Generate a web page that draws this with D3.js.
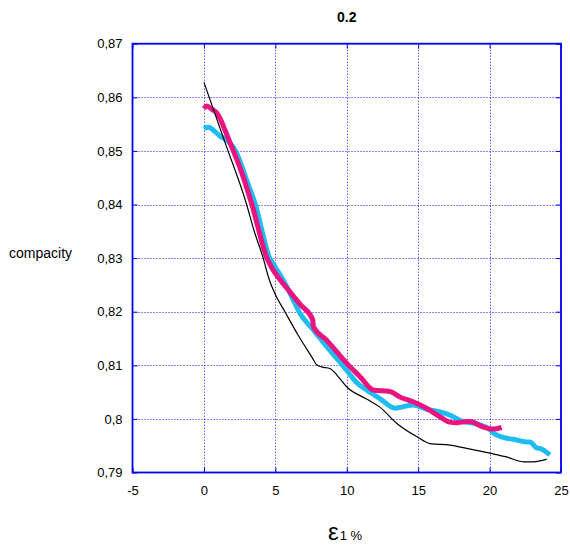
<!DOCTYPE html>
<html><head><meta charset="utf-8">
<script src="https://cdn.jsdelivr.net/npm/d3@7"></script>
<style>body{margin:0;background:#fff}svg{display:block}text{font-family:"Liberation Sans",Arial,sans-serif}</style>
</head><body><svg id="c" width="570" height="547"></svg>
<script>
const title = "0.2";
const xTicks = [-5, 0, 5, 10, 15, 20, 25];
const yTicks = [0.79, 0.80, 0.81, 0.82, 0.83, 0.84, 0.85, 0.86, 0.87];
const blackX = [0, 1.5, 2.99, 3.5, 4.15, 4.55, 5.0, 5.67, 6.6, 7.61, 7.89, 8.24, 8.82, 9.4, 9.99, 11.39, 12.32, 13.49, 14.89, 15.82, 17.22, 18.39, 20.02, 21.19, 22.36, 23.06, 24.0];
const blackY = [0.8628, 0.8514, 0.84, 0.8352, 0.83, 0.8262, 0.8232, 0.82, 0.8156, 0.8113, 0.8101, 0.8097, 0.8094, 0.8079, 0.806, 0.8037, 0.8022, 0.7992, 0.7967, 0.7954, 0.7951, 0.7945, 0.7936, 0.7929, 0.792, 0.792, 0.7925];
const cyanX = [0, 0.3, 0.77, 1.12, 1.59, 1.94, 2.17, 3.0, 3.6, 4.6, 5.0, 5.7, 6.25, 6.72, 7.66, 8.59, 9.99, 10.69, 11.39, 12.32, 13.37, 13.84, 14.65, 15.58, 16.52, 17.22, 18.15, 18.85, 20.02, 20.26, 21.19, 21.66, 22.59, 22.82, 23.29, 23.52, 24.22];
const cyanY = [0.8542, 0.8544, 0.8536, 0.8528, 0.852, 0.8511, 0.8502, 0.8445, 0.84, 0.83, 0.8283, 0.8252, 0.8222, 0.8197, 0.8166, 0.8135, 0.8091, 0.8068, 0.8054, 0.8038, 0.802, 0.8022, 0.8026, 0.8018, 0.8013, 0.8007, 0.7995, 0.7992, 0.798, 0.7974, 0.7964, 0.7962, 0.7957, 0.7957, 0.7946, 0.7945, 0.7933];
const pinkX = [0, 0.19, 0.54, 0.89, 1.12, 1.47, 1.94, 2.64, 3.36, 4.41, 4.75, 5.44, 6.02, 6.72, 7.62, 7.66, 8.59, 9.99, 10.92, 11.85, 13.02, 13.72, 14.65, 15.58, 16.52, 17.22, 17.69, 18.39, 18.62, 19.55, 20.26, 20.84];
const pinkY = [0.8579, 0.8584, 0.8578, 0.8571, 0.8561, 0.8539, 0.8508, 0.846, 0.84, 0.83, 0.8282, 0.8256, 0.8237, 0.8214, 0.8185, 0.8172, 0.8147, 0.8104, 0.8079, 0.8054, 0.8051, 0.8041, 0.8032, 0.802, 0.8004, 0.7994, 0.7993, 0.7995, 0.7995, 0.7985, 0.7981, 0.7984];

const svg = d3.select("#c");
const L = 132.5, R = 561, T = 43.7, B = 472.5;
const x = d3.scaleLinear().domain([-5, 25]).range([L, R]);
const y = d3.scaleLinear().domain([0.79, 0.87]).range([B, T]);
const gridCol = "#1010f0", frameCol = "#0000ee";
const crisp = v => Math.round(v) + 0.5;

// grid
svg.append("g").selectAll("line").data(xTicks.slice(1, -1)).join("line")
  .attr("x1", d => crisp(x(d))).attr("x2", d => crisp(x(d))).attr("y1", T).attr("y2", B)
  .attr("stroke", gridCol).attr("stroke-width", 1).attr("stroke-dasharray", "1,2");
svg.append("g").selectAll("line").data(yTicks.slice(1, -1)).join("line")
  .attr("y1", d => crisp(y(d))).attr("y2", d => crisp(y(d))).attr("x1", L).attr("x2", R)
  .attr("stroke", gridCol).attr("stroke-width", 1).attr("stroke-dasharray", "1,2");

// axes with inward ticks
const fmt = d => d3.format(".2f")(d).replace(/\.?0+$/, "").replace(".", ",");
svg.append("g").attr("transform", `translate(0,${B})`)
  .call(d3.axisBottom(x).tickValues(xTicks).tickSize(-5).tickPadding(13).tickFormat(d => String(d)));
svg.append("g").attr("transform", `translate(${L},0)`)
  .call(d3.axisLeft(y).tickValues(yTicks).tickSize(-5).tickPadding(10).tickFormat(fmt));
svg.append("g").attr("transform", `translate(${R},0)`)
  .call(d3.axisRight(y).tickValues(yTicks).tickSize(-5).tickFormat(""));
svg.append("g").attr("transform", `translate(0,${T})`)
  .call(d3.axisTop(x).tickValues(xTicks).tickSize(-5).tickFormat(""));
svg.selectAll(".domain").remove();
svg.selectAll(".tick line").attr("stroke", frameCol);
svg.selectAll(".tick text").attr("font-size", 13).attr("fill", "#000")
  .style("font-family", '"Liberation Sans",Arial,sans-serif');
svg.append("rect").attr("x", L).attr("y", T).attr("width", R - L).attr("height", B - T)
  .attr("fill", "none").attr("stroke", frameCol).attr("stroke-width", 1.8);

// lines
const line = d3.line().x(d => x(d[0])).y(d => y(d[1])).curve(d3.curveMonotoneX);
const zip = (a, b) => a.map((v, i) => [v, b[i]]);
const plot = svg.append("g");
plot.append("path").datum(zip(cyanX, cyanY)).attr("d", line).attr("fill", "none")
  .attr("stroke", "#1ebcf0").attr("stroke-width", 5).attr("stroke-linejoin", "round");
plot.append("path").datum(zip(pinkX, pinkY)).attr("d", line).attr("fill", "none")
  .attr("stroke", "#ea1480").attr("stroke-width", 5).attr("stroke-linejoin", "round");
plot.append("path").datum(zip(blackX, blackY)).attr("d", line).attr("fill", "none")
  .attr("stroke", "#000").attr("stroke-width", 1.2);

// labels
svg.append("text").attr("x", (L + R) / 2).attr("y", 22).attr("text-anchor", "middle")
  .attr("font-size", 14).attr("font-weight", "bold").text(title);
svg.append("text").attr("x", 9).attr("y", 258).attr("font-size", 14).text("compacity");
const xl = svg.append("text").attr("x", 328).attr("y", 540);
xl.append("tspan").attr("font-size", 24).text("ε");
xl.append("tspan").attr("font-size", 13).attr("dx", 1).text("1 %");
</script></body></html>
